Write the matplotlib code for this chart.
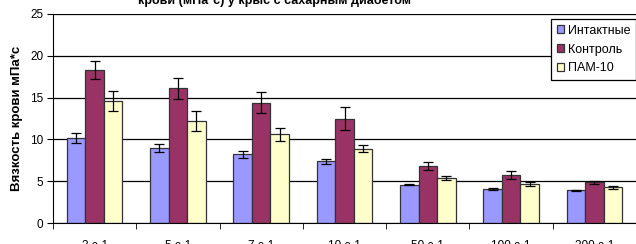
import matplotlib.pyplot as plt
import numpy as np

plt.rcParams['font.family'] = ['Liberation Sans', 'DejaVu Sans']

# Data
categories = ['3 с-1', '5 с-1', '7 с-1', '10 с-1', '50 с-1', '100 с-1', '300 с-1']
intact = [10.2, 9.0, 8.2, 7.4, 4.6, 4.1, 3.9]
intact_err = [0.6, 0.45, 0.4, 0.3, 0.1, 0.1, 0.1]
control = [18.3, 16.1, 14.4, 12.5, 6.8, 5.75, 4.85]
control_err = [1.1, 1.3, 1.25, 1.4, 0.5, 0.45, 0.2]
pam = [14.6, 12.2, 10.6, 8.9, 5.35, 4.65, 4.25]
pam_err = [1.2, 1.15, 0.8, 0.4, 0.25, 0.2, 0.15]
series_names = ['Интактные', 'Контроль', 'ПАМ-10']

fig = plt.figure(figsize=(6.36, 2.44), dpi=100)
ax = fig.add_axes([53/636, 1 - 223/244, 583/636, 209/244])

x = np.arange(len(categories))
w = 1 / 4.5
colors = ['#9999FF', '#993366', '#FFFFCC']
vals = [intact, control, pam]
errs = [intact_err, control_err, pam_err]
for i in range(3):
    ax.bar(x + (i - 1) * w, vals[i], w, color=colors[i], edgecolor='#333333',
           linewidth=0.9, label=series_names[i], zorder=2)
    ax.errorbar(x + (i - 1) * w, vals[i], yerr=errs[i], fmt='none',
                ecolor='black', elinewidth=0.9, capsize=3.5, capthick=0.9, zorder=3)

ax.set_xlim(-0.5, len(categories) - 0.5)
ax.set_ylim(0, 25)
ax.set_yticks([0, 5, 10, 15, 20, 25])
ax.yaxis.grid(True, color='black', linewidth=0.9, zorder=0)
ax.set_axisbelow(True)

ax.set_xticks(x)
ax.set_xticklabels(categories, fontsize=8.5)
ax.set_xticks(np.arange(-0.5, len(categories)), minor=True)
ax.tick_params(axis='x', which='major', length=0, pad=12)
ax.tick_params(axis='x', which='minor', length=4, direction='out', color='black')
ax.tick_params(axis='y', length=4, direction='out', labelsize=8.5, pad=3)

for s in ['top', 'right']:
    ax.spines[s].set_visible(False)
ax.spines['left'].set_color('black')
ax.spines['bottom'].set_color('black')

ax.set_ylabel('Вязкость крови мПа*с', fontsize=9.5, fontweight='bold', labelpad=5)

fig.text(274/636, 1 - 7/244, 'Вязкость\nкрови (мПа*с) у крыс с сахарным диабетом',
         ha='center', va='bottom', fontsize=9, fontweight='bold')

leg = ax.legend(loc='upper right', bbox_to_anchor=(1.0, 1 - 5/209), fontsize=9,
                frameon=True, fancybox=False, edgecolor='black', framealpha=1,
                handlelength=0.6, handleheight=0.6, handletextpad=0.3,
                borderpad=0.45, labelspacing=0.55, borderaxespad=0.0)
leg.get_frame().set_linewidth(0.9)

fig.savefig('out.png', dpi=100)
